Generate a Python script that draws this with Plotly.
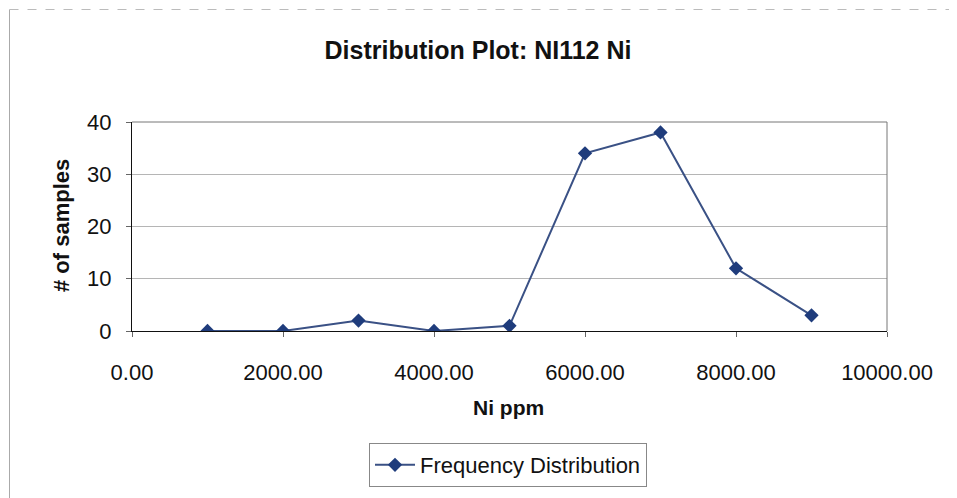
import plotly.graph_objects as go

ni_ppm = [1000, 2000, 3000, 4000, 5000, 6000, 7000, 8000, 9000]
n_samples = [0, 0, 2, 0, 1, 34, 38, 12, 3]
x_ticks = [0, 2000, 4000, 6000, 8000, 10000]
y_ticks = [0, 10, 20, 30, 40]

OFF = 8  # page body margin in the written html
W, H = 957 - OFF, 498 - OFF
# plot area in reference-pixel coordinates
RL, RR, RT, RB = 132, 887, 122, 331
L, R, T, B = RL - OFF, RR - OFF, RT - OFF, RB - OFF

FONT = "Arial, Liberation Sans, sans-serif"

fig = go.Figure()
fig.add_trace(go.Scatter(
    x=ni_ppm, y=n_samples, mode="lines+markers",
    name="Frequency Distribution",
    line=dict(color="#3a5185", width=2),
    marker=dict(symbol="diamond", size=11, color="#1f3c7c"),
))

def px_x(px):  # reference pixel -> plot paper x
    return (px - RL) / (RR - RL)

def px_y(py):  # reference pixel -> plot paper y
    return (RB - py) / (RB - RT)

fig.update_layout(
    width=W, height=H,
    margin=dict(l=L, r=W - R, t=T, b=H - B, autoexpand=False),
    paper_bgcolor="white", plot_bgcolor="white",
    font=dict(family=FONT, color="#111", size=22),
    title=dict(text="<b>Distribution Plot: NI112 Ni</b>", x=(478 - OFF) / W, xanchor="center",
               y=1 - (50 - OFF) / H, yanchor="middle", font=dict(size=25)),
    showlegend=True,
    legend=dict(orientation="h", x=px_x(508), xanchor="center",
                y=px_y(465), yanchor="middle",
                bordercolor="#888", borderwidth=1, font=dict(size=22),
                itemwidth=40, tracegroupgap=0),
    xaxis=dict(range=[0, 10000], tickvals=x_ticks, tickformat=".2f",
               showgrid=False, zeroline=False, showline=True, linecolor="#111",
               linewidth=1, ticks="outside", ticklen=5, tickcolor="#666",
               tickfont=dict(size=22), ticklabelstandoff=17, automargin=False),
    yaxis=dict(range=[0, 40], tickvals=y_ticks,
               showgrid=True, gridcolor="#b5b5b5", gridwidth=1, zeroline=False,
               showline=True, linecolor="#111", linewidth=1,
               ticks="outside", ticklen=5, tickcolor="#666",
               tickfont=dict(size=22), ticklabelstandoff=10, automargin=False),
    annotations=[
        dict(text="<b>Ni ppm</b>", xref="paper", yref="paper",
             x=px_x(508), y=px_y(407), xanchor="center", yanchor="middle",
             showarrow=False, font=dict(size=21)),
        dict(text="<b># of samples</b>", xref="paper", yref="paper",
             x=px_x(61), y=px_y(226), xanchor="center", yanchor="middle",
             textangle=-90, showarrow=False, font=dict(size=22)),
    ],
    shapes=[
        dict(type="line", xref="paper", yref="paper", x0=0, x1=1, y0=1, y1=1,
             line=dict(color="#777", width=1)),
        dict(type="line", xref="paper", yref="paper", x0=1, x1=1, y0=0, y1=1,
             line=dict(color="#777", width=1)),
        dict(type="line", xref="paper", yref="paper",
             x0=px_x(9.5), x1=px_x(9.5), y0=px_y(498), y1=px_y(9.5),
             line=dict(color="#aaa", width=1)),
        dict(type="line", xref="paper", yref="paper",
             x0=px_x(9.5), x1=px_x(957), y0=px_y(9.5), y1=px_y(9.5),
             line=dict(color="#bbb", width=1, dash="dash")),
    ],
)

fig.write_html("out.html")
